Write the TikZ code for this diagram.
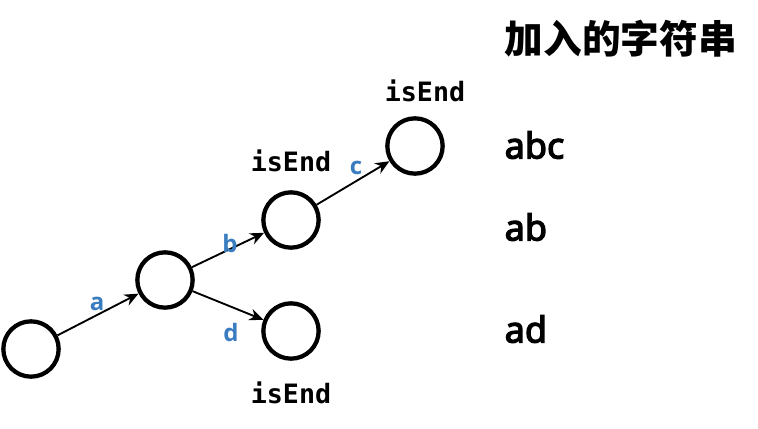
\documentclass[tikz,border=0pt]{standalone}
\usepackage{fontspec}
\usepackage{tikz}
\usetikzlibrary{arrows.meta}
\setmainfont{Open Sans}
\setmonofont{DejaVu Sans Mono}
\newfontfamily\cjk{Noto Sans CJK SC}
\newfontfamily\wordfont{Noto Sans}[FakeBold=3.5]
\definecolor{edgeblue}{HTML}{3A7CC0}

\begin{document}
\begin{tikzpicture}[
  x=0.75pt, y=-0.75pt,
  state/.style={draw, circle, line width=3.2pt, inner sep=0pt,
                minimum size=41.5pt},
  endtag/.style={font=\ttfamily\bfseries\fontsize{20}{20}\selectfont},
  letter/.style={text=edgeblue, font=\bfseries\fontsize{18}{18}\selectfont},
  word/.style={anchor=west, font=\wordfont\fontsize{27}{27}\selectfont},
  link/.style={-{Stealth[length=10.5pt,width=9pt]}, line width=1.4pt},
  >=stealth
]
\useasboundingbox (0,0) rectangle (758,429);

\node[state] (root) at (31,349)  {};
\node[state] (na)   at (165,280) {};
\node[state] (nab)  at (291,220) {};
\node[state] (nabc) at (415,146) {};
\node[state] (nad)  at (291,331) {};

\node[endtag] (endab)  at (291,161) {isEnd};
\node[endtag] (endabc) at (425,91)  {isEnd};
\node[endtag] (endad)  at (291,393) {isEnd};

\draw[link] (root) -- (na);
\draw[link] (na)   -- (nab);
\draw[link] (nab)  -- (nabc);
\draw[link] (na)   -- (nad);

\node[letter] (la) at (97,304)  {a};
\node[letter] (lb) at (230,243) {b};
\node[letter] (lc) at (356,168) {c};
\node[letter] (ld) at (231,332) {d};

\node[anchor=west, font=\cjk\bfseries\fontsize{29}{29}\selectfont] (title) at (500,39) {加入的字符串};
\node[word] (wabc) at (500,145) {abc};
\node[word] (wab)  at (500,227) {ab};
\node[word] (wad)  at (500,329) {ad};
\end{tikzpicture}
\end{document}
